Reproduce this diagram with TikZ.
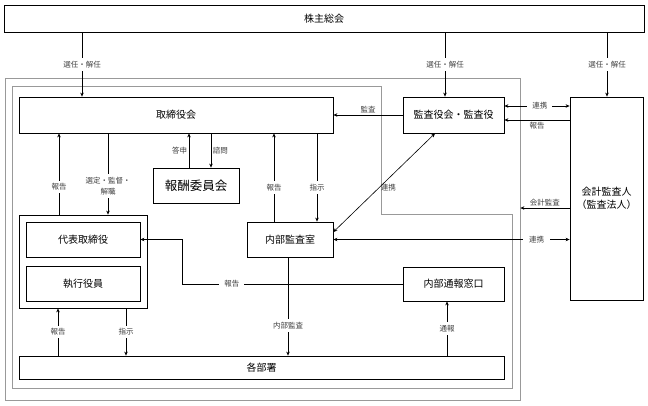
\documentclass[tikz,border=0pt]{standalone}
\usepackage{fontspec}
\setmainfont{Noto Sans CJK JP}
\usetikzlibrary{arrows.meta,calc}
\begin{document}
\begin{tikzpicture}[x=1pt,y=-1pt,
  box/.style={draw, line width=0.8pt, inner sep=0pt, font=\fontsize{10}{13}\selectfont, align=center},
  frame/.style={draw=black!40, line width=0.7pt},
  conn/.style={line width=0.6pt},
  arr/.style={conn, -{Stealth[length=4pt,width=3.5pt]}},
  darr/.style={conn, {Stealth[length=4pt,width=3.5pt]}-{Stealth[length=4pt,width=3.5pt]}},
  lbl/.style={font=\fontsize{7.5}{10.5}\selectfont, text=black!75, inner sep=1.5pt, align=center},
  cut/.style={lbl, fill=white, inner ysep=3pt}]
\useasboundingbox (0,0) rectangle (648,405);
\fill[white] (0,0) rectangle (648,405);

% gray frames
\node[frame, minimum width=515pt, minimum height=322pt, inner sep=0pt] (outer) at (262.5,239) {};
\draw[frame] (12,86) -- (381,86) -- (381,214) -- (512,214) -- (512,388) -- (12,388) -- cycle;

% boxes
\node[box, minimum width=640pt, minimum height=27pt] (kabu) at (324,18.5) {株主総会};
\node[box, minimum width=314pt, minimum height=36pt] (tori) at (176,115) {取締役会};
\node[box, minimum width=101pt, minimum height=36pt] (kansa) at (453.5,115) {監査役会・監査役};
\node[box, minimum width=73pt, minimum height=203pt] (kaikei) at (606.5,198.5) {会計監査人\\（監査法人）};
\node[box, minimum width=86pt, minimum height=35pt, font=\fontsize{12.5}{14}\selectfont] (housyu) at (196,185.5) {報酬委員会};
\node[box, minimum width=128pt, minimum height=93pt] (grp) at (83,261.5) {};
\node[box, minimum width=114pt, minimum height=35pt] (daihyo) at (83,239.5) {代表取締役};
\node[box, minimum width=114pt, minimum height=35pt] (shikko) at (83,283.5) {執行役員};
\node[box, minimum width=86pt, minimum height=35pt] (naibu) at (290,239.5) {内部監査室};
\node[box, minimum width=101pt, minimum height=34pt] (tsuho) at (453.5,284) {内部通報窓口};
\node[box, minimum width=485pt, minimum height=23pt] (kakubu) at (261.5,367.5) {各部署};

% from shareholders
\draw[arr] (82,0 |- kabu.south) -- (82,0 |- tori.north) node[cut, midway] {選任・解任};
\draw[arr] (445,0 |- kabu.south) -- (445,0 |- kansa.north) node[cut, midway] {選任・解任};
\draw[arr] (607,0 |- kabu.south) -- (607,0 |- kaikei.north) node[cut, midway] {選任・解任};

% audit board
\draw[arr] (kansa.west) -- (kansa.west -| tori.east) node[lbl, above, midway] {監査};
\draw[darr] (kansa.east |- 0,106) -- (kaikei.west |- 0,106) node[cut, pos=0.545, inner xsep=5pt] {連携};
\draw[arr] (kaikei.west |- 0,120) -- (kansa.east |- 0,120) node[lbl, below, pos=0.5] {報告};
\draw[arr] (kaikei.west |- 0,208) -- (outer.east |- 0,208) node[lbl, above, midway] {会計監査};
\draw[darr] (naibu.east) -- (kaikei.west |- naibu.east) node[cut, pos=0.86, inner xsep=6pt] {連携};
\draw[darr] (435,0 |- kansa.south) -- (naibu.east |- 0,232) node[lbl, right, pos=0.55] {連携};

% board <-> executives
\draw[arr] (59,0 |- grp.north) -- (59,0 |- tori.south) node[cut, pos=0.34] {報告};
\draw[arr] (108,0 |- tori.south) -- (108,0 |- grp.north) node[cut, pos=0.65] {選定・監督・\\解職};
\draw[arr] (189,0 |- housyu.north) -- (189,0 |- tori.south) node[lbl, left, midway] {答申};
\draw[arr] (211,0 |- tori.south) -- (211,0 |- housyu.north) node[lbl, right, midway] {諮問};
\draw[arr] (274,0 |- naibu.north) -- (274,0 |- tori.south) node[cut, pos=0.39] {報告};
\draw[arr] (317,0 |- tori.south) -- (317,0 |- naibu.north) node[cut, pos=0.61] {指示};

% whistleblowing report
\draw[arr] (tsuho.west) -- node[cut, pos=0.774, inner xsep=5pt] {報告} (182,0 |- tsuho.west) -- (182,0 |- daihyo.east) -- (daihyo.east);

% lower connectors
\draw[arr] (288,0 |- naibu.south) -- (288,0 |- kakubu.north) node[cut, pos=0.69] {内部監査};
\draw[arr] (58,0 |- kakubu.north) -- (58,0 |- grp.south) node[cut, midway] {報告};
\draw[arr] (126,0 |- grp.south) -- (126,0 |- kakubu.north) node[cut, midway] {指示};
\draw[arr] (447,0 |- kakubu.north) -- (447,0 |- tsuho.south) node[cut, midway] {通報};
\end{tikzpicture}
\end{document}
